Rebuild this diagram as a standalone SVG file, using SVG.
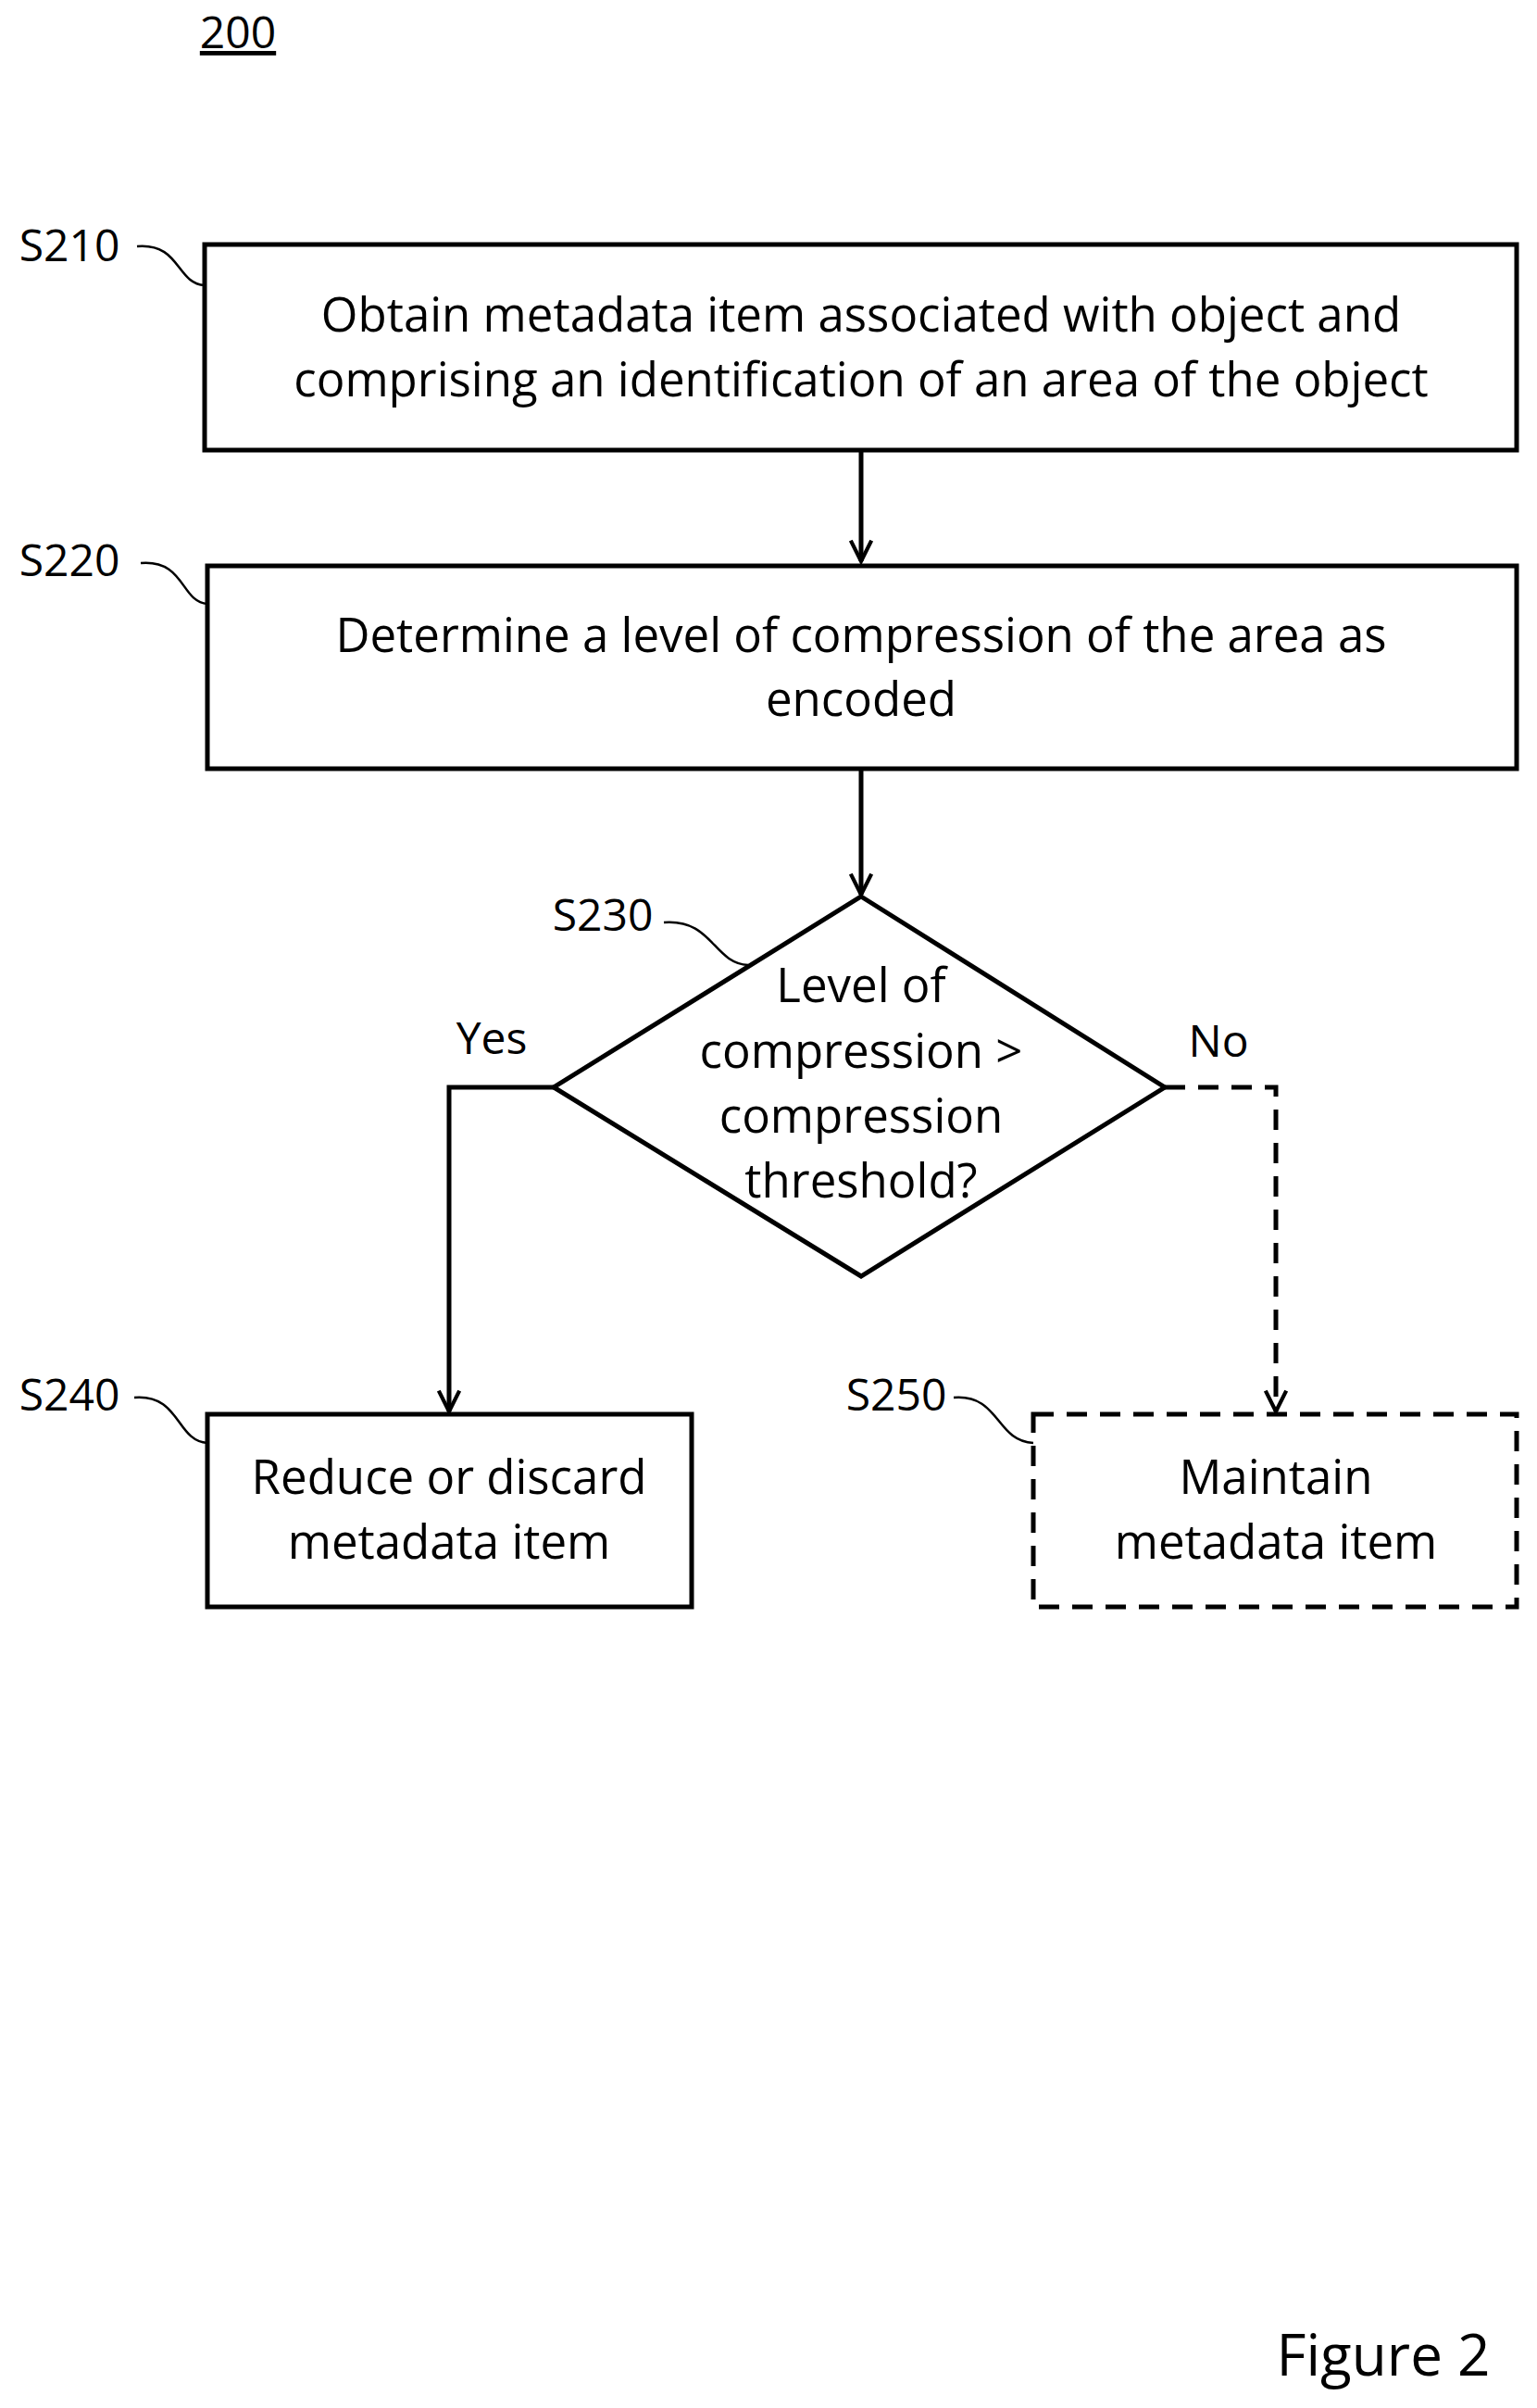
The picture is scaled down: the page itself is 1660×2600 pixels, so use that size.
<svg xmlns="http://www.w3.org/2000/svg" width="1660" height="2600" viewBox="0 0 1660 2600">
<style>
text{font-family:"Open Sans","Liberation Sans",sans-serif;fill:#000;}
.t{font-size:51px;text-anchor:middle;}
.l{font-size:48px;text-anchor:middle;}
.b{fill:#fff;stroke:#000;stroke-width:5;}
.c{fill:none;stroke:#000;stroke-width:5;}
.s{fill:none;stroke:#000;stroke-width:2.5;}
.d{stroke-dasharray:22 14;}
</style>
<defs>
<marker id="h" viewBox="0 0 20 20" refX="18" refY="10" markerWidth="28" markerHeight="28" orient="auto" markerUnits="userSpaceOnUse"><path d="M2,2 L18,10 L2,18" fill="none" stroke="#000" stroke-width="3"/></marker></defs>
<text x="257" y="52" class="l" style="text-decoration:underline">200</text>
<g id="connectors">
<line x1="930" y1="486" x2="930" y2="606" class="c" marker-end="url(#h)"/>
<line x1="930" y1="830" x2="930" y2="966" class="c" marker-end="url(#h)"/>
<polyline points="598,1174 485,1174 485,1524" class="c" marker-end="url(#h)"/>
<polyline points="1258,1174 1378,1174 1378,1524" class="c d" marker-end="url(#h)"/>
<path d="M148,266 C195,262 190,306 221,308" class="s"/>
<path d="M152,608 C200,604 195,650 224,652" class="s"/>
<path d="M717,996 C770,992 770,1040 808,1042" class="s"/>
<path d="M145,1509 C195,1505 190,1556 224,1558" class="s"/>
<path d="M1030,1509 C1080,1505 1075,1556 1116,1558" class="s"/>
<text x="531" y="1138" class="l">Yes</text>
<text x="1316" y="1141" class="l">No</text>
</g>
<g id="S210"><rect x="221" y="264" width="1417" height="222" class="b"/>
<text x="930" y="358" class="t">Obtain metadata item associated with object and</text>
<text x="930" y="428" class="t">comprising an identification of an area of the object</text>
<text x="75" y="282" class="l">S210</text></g>
<g id="S220"><rect x="224" y="611" width="1414" height="219" class="b"/>
<text x="930" y="704" class="t">Determine a level of compression of the area as</text>
<text x="930" y="773" class="t">encoded</text>
<text x="75" y="622" class="l">S220</text></g>
<g id="S230"><polygon points="930,968 1258,1174 930,1378 598,1174" class="b"/>
<text x="930" y="1082" class="t">Level of</text>
<text x="930" y="1153" class="t">compression &gt;</text>
<text x="930" y="1223" class="t">compression</text>
<text x="930" y="1293" class="t">threshold?</text>
<text x="651" y="1005" class="l">S230</text></g>
<g id="S240"><rect x="224" y="1527" width="523" height="208" class="b"/>
<text x="485" y="1613" class="t">Reduce or discard</text>
<text x="485" y="1683" class="t">metadata item</text>
<text x="75" y="1523" class="l">S240</text></g>
<g id="S250"><rect x="1116" y="1527" width="522" height="208" class="b d"/>
<text x="1378" y="1613" class="t">Maintain</text>
<text x="1378" y="1683" class="t">metadata item</text>
<text x="968" y="1523" class="l">S250</text></g>
<text x="1494" y="2565" style="font-size:62px;text-anchor:middle">Figure 2</text>
</svg>
